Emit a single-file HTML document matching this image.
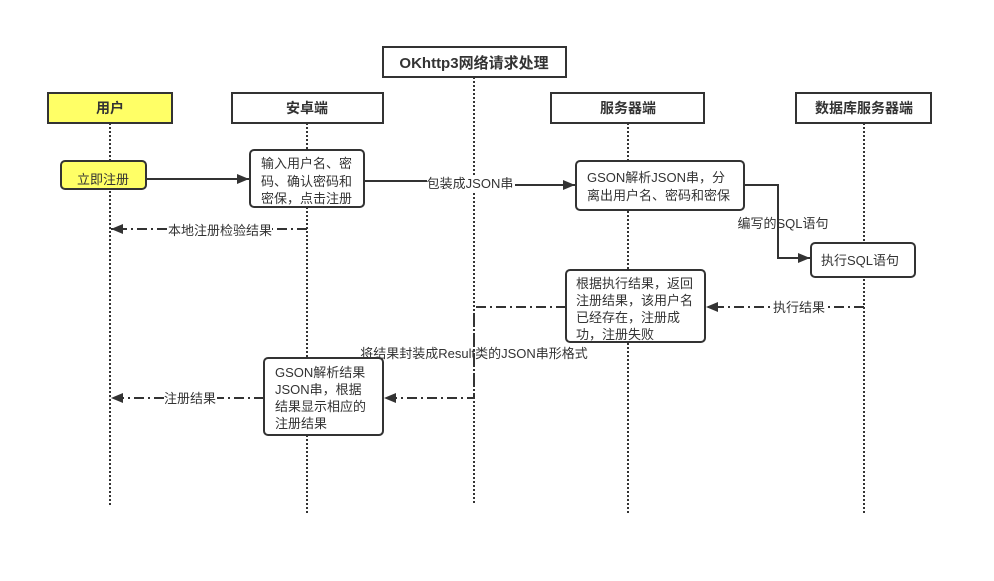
<!DOCTYPE html>
<html><head><meta charset="utf-8"><style>
html,body{margin:0;padding:0;background:#fff;}
svg text{font-family:"Liberation Sans","Noto Sans CJK SC",sans-serif;fill:#333;}
</style></head><body>
<svg width="994" height="576" viewBox="0 0 994 576" xmlns="http://www.w3.org/2000/svg">
<defs>
<marker id="a" viewBox="0 0 12 10" refX="12" refY="5" markerWidth="12" markerHeight="10" markerUnits="userSpaceOnUse" orient="auto"><path d="M0,0 L12,5 L0,10 z" fill="#333"/></marker>
</defs>
<g stroke="#333" stroke-width="2" stroke-dasharray="2,2" fill="none">
<line x1="110" y1="123" x2="110" y2="505"/>
<line x1="307" y1="123" x2="307" y2="515"/>
<line x1="474" y1="77" x2="474" y2="505"/>
<line x1="628" y1="123" x2="628" y2="515"/>
<line x1="864" y1="123" x2="864" y2="515"/>
</g>
<g stroke="#333" stroke-width="2">
<rect x="48" y="93" width="124" height="30" fill="#ffff66"/>
<rect x="232" y="93" width="151" height="30" fill="#fff"/>
<rect x="383" y="47" width="183" height="30" fill="#fff"/>
<rect x="551" y="93" width="153" height="30" fill="#fff"/>
<rect x="796" y="93" width="135" height="30" fill="#fff"/>
</g>
<g font-size="14" font-weight="bold" text-anchor="middle">
<text x="110" y="113">用户</text>
<text x="307" y="113">安卓端</text>
<text x="474" y="68" font-size="15">OKhttp3网络请求处理</text>
<text x="628" y="113">服务器端</text>
<text x="864" y="113">数据库服务器端</text>
</g>
<g fill="none" stroke="#333" stroke-width="2">
<line x1="146" y1="179" x2="249" y2="179" marker-end="url(#a)"/>
<polyline points="364,181 470,181"/>
<line x1="515" y1="185" x2="575" y2="185" marker-end="url(#a)"/>
<polyline points="744,185 778,185 778,258 810,258" marker-end="url(#a)"/>
</g>
<g fill="none" stroke="#333" stroke-width="2" stroke-dasharray="10,4,2,4">
<line x1="307" y1="229" x2="111" y2="229" marker-end="url(#a)"/>
<line x1="864" y1="307" x2="706" y2="307" marker-end="url(#a)"/>
<polyline points="566,307 474,307 474,398 384,398" marker-end="url(#a)"/>
<line x1="264" y1="398" x2="111" y2="398" marker-end="url(#a)"/>
</g>
<g stroke="#333" stroke-width="2">
<rect x="61" y="161" width="85" height="28" rx="4" fill="#ffff66"/>
<rect x="250" y="150" width="114" height="57" rx="4" fill="#fff"/>
<rect x="576" y="161" width="168" height="49" rx="4" fill="#fff"/>
<rect x="811" y="243" width="104" height="34" rx="4" fill="#fff"/>
<rect x="566" y="270" width="139" height="72" rx="4" fill="#fff"/>
<rect x="264" y="358" width="119" height="77" rx="4" fill="#fff"/>
</g>
<g font-size="13">
<text x="103" y="184" text-anchor="middle">立即注册</text>
<text x="261" y="168">输入用户名、密</text>
<text x="261" y="186">码、确认密码和</text>
<text x="261" y="203">密保，点击注册</text>
<text x="587" y="182">GSON解析JSON串，分</text>
<text x="587" y="200">离出用户名、密码和密保</text>
<text x="821" y="265">执行SQL语句</text>
<text x="576" y="288">根据执行结果，返回</text>
<text x="576" y="305">注册结果，该用户名</text>
<text x="576" y="322">已经存在，注册成</text>
<text x="576" y="339">功，注册失败</text>
<text x="275" y="377">GSON解析结果</text>
<text x="275" y="394">JSON串，根据</text>
<text x="275" y="411">结果显示相应的</text>
<text x="275" y="428">注册结果</text>
</g>
<g font-size="13" text-anchor="middle">
<rect x="427" y="175" width="87" height="16" fill="#fff"/>
<text x="470" y="188">包装成JSON串</text>
<rect x="168" y="222" width="104" height="16" fill="#fff"/>
<text x="220" y="235">本地注册检验结果</text>
<text x="783" y="228">编写的SQL语句</text>
<rect x="772" y="300" width="55" height="16" fill="#fff"/>
<text x="799" y="312">执行结果</text>
<text x="474" y="358">将结果封装成Result类的JSON串形格式</text>
<rect x="164" y="391" width="53" height="16" fill="#fff"/>
<text x="190" y="403">注册结果</text>
</g>
</svg>
</body></html>
